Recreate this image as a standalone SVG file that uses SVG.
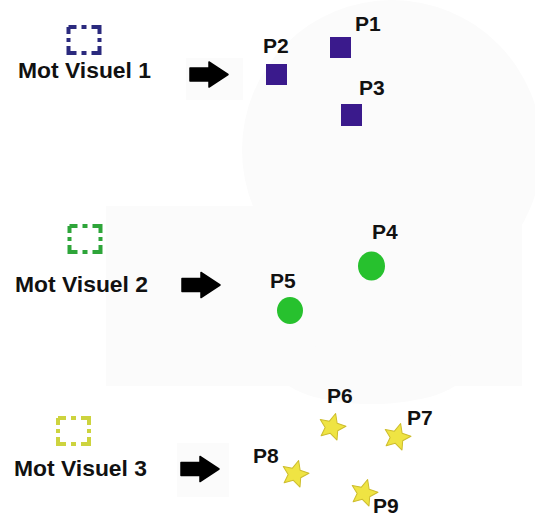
<svg xmlns="http://www.w3.org/2000/svg" width="535" height="517" viewBox="0 0 535 517">
<style>
  .lbl { font-family: "Liberation Sans", Arial, sans-serif; font-weight: bold; fill: #111; }
  .word { font-size: 22px; }
  .pt { font-size: 21px; }
  .box { fill: none; stroke-width: 4; stroke-dasharray: 8 5 5 5 15 4 4 4 15 5 5 5 15 4 4 4 7 0; }
  .sq { fill: #3a1a8c; }
  .dot { fill: #27c12e; }
  .star { fill: #efe443; stroke: #cdbd2c; stroke-width: 1; stroke-linejoin: round; }
  .arrow { fill: #000; stroke: #000; stroke-width: 1.5; stroke-linejoin: round; }
  .bg { fill: #fbfbfb; }
</style>
<defs>
  <polygon id="starShape" points="0,-14 4,-5 13.3,-4.3 6.5,2.2 8.2,11.3 0,6.5 -8.2,11.3 -6.5,2.2 -13.3,-4.3 -4,-5"/>
  <polygon id="arrowShape" points="0,-6.5 19,-6.5 19,-12.5 38,0 19,12.5 19,6.5 0,6.5"/>
</defs>
<rect width="535" height="517" fill="#ffffff"/>
<g id="background">
  <circle class="bg" cx="392" cy="150" r="150"/>
  <rect class="bg" x="186" y="58" width="57" height="42"/>
  <rect class="bg" x="106" y="206" width="416" height="180"/>
  <rect class="bg" x="324" y="170" width="198" height="60"/>
  <ellipse class="bg" cx="372" cy="372" rx="92" ry="32"/>
  <rect class="bg" x="177" y="443" width="52" height="54"/>
</g>
<g id="connectors">
  <use href="#arrowShape" class="arrow" x="190" y="74.5"/>
  <use href="#arrowShape" class="arrow" x="182" y="285"/>
  <use href="#arrowShape" class="arrow" x="181" y="469"/>
</g>
<g id="mot1">
  <rect class="box" x="68.5" y="27" width="31" height="26" stroke="#2b2a7e"/>
  <text class="lbl word" x="18" y="78" textLength="133" lengthAdjust="spacingAndGlyphs">Mot Visuel 1</text>
</g>
<g id="mot2">
  <rect class="box" x="69.5" y="226" width="31" height="26" stroke="#2ea53a"/>
  <text class="lbl word" x="15" y="292" textLength="133" lengthAdjust="spacingAndGlyphs">Mot Visuel 2</text>
</g>
<g id="mot3">
  <rect class="box" x="58" y="418" width="31" height="26" stroke="#cdd33e"/>
  <text class="lbl word" x="14" y="476" textLength="133" lengthAdjust="spacingAndGlyphs">Mot Visuel 3</text>
</g>
<g id="p1">
  <rect class="sq" x="330" y="37" width="21" height="21"/>
  <text class="lbl pt" x="355" y="31">P1</text>
</g>
<g id="p2">
  <rect class="sq" x="266" y="64" width="21" height="21"/>
  <text class="lbl pt" x="263" y="53">P2</text>
</g>
<g id="p3">
  <rect class="sq" x="341" y="104" width="21" height="22"/>
  <text class="lbl pt" x="359" y="95">P3</text>
</g>
<g id="p4">
  <ellipse class="dot" cx="371.5" cy="266" rx="13.5" ry="14.5"/>
  <text class="lbl pt" x="372" y="239">P4</text>
</g>
<g id="p5">
  <ellipse class="dot" cx="290" cy="310.5" rx="13" ry="13.5"/>
  <text class="lbl pt" x="270" y="288">P5</text>
</g>
<g id="p6">
  <use href="#starShape" class="star" transform="translate(332 427) rotate(15)"/>
  <text class="lbl pt" x="327" y="403">P6</text>
</g>
<g id="p7">
  <use href="#starShape" class="star" transform="translate(397 437) rotate(15)"/>
  <text class="lbl pt" x="407" y="425">P7</text>
</g>
<g id="p8">
  <use href="#starShape" class="star" transform="translate(295 474) rotate(15)"/>
  <text class="lbl pt" x="253" y="463">P8</text>
</g>
<g id="p9">
  <use href="#starShape" class="star" transform="translate(364 493) rotate(15)"/>
  <text class="lbl pt" x="373" y="513">P9</text>
</g>
</svg>
